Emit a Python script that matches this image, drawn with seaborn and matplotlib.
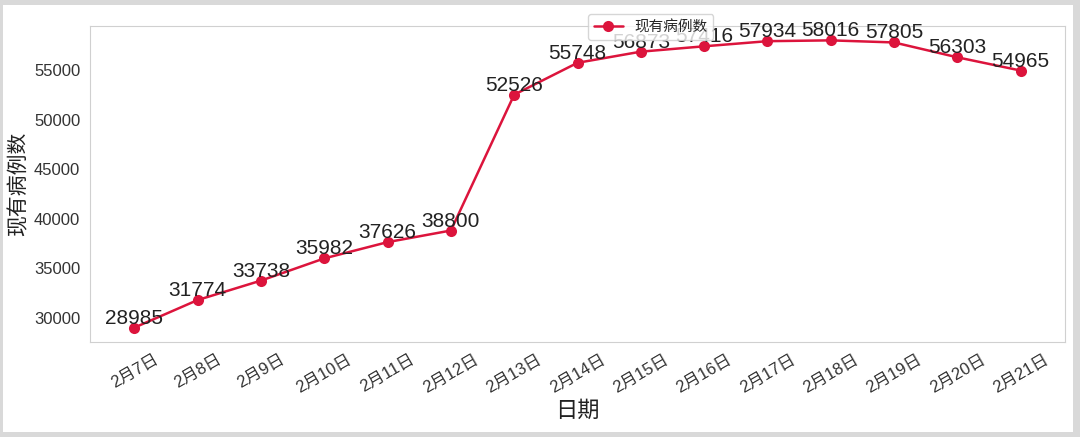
import matplotlib
matplotlib.use("Agg")
import matplotlib.pyplot as plt
import seaborn as sns
import pandas as pd
from matplotlib.patches import Rectangle

dates = ["2月7日", "2月8日", "2月9日", "2月10日", "2月11日", "2月12日", "2月13日",
         "2月14日", "2月15日", "2月16日", "2月17日", "2月18日", "2月19日", "2月20日", "2月21日"]
cases = [28985, 31774, 33738, 35982, 37626, 38800, 52526,
         55748, 56873, 57416, 57934, 58016, 57805, 56303, 54965]

sns.set_style("whitegrid", {"axes.grid": False, "axes.edgecolor": "#d0d0d0"})
plt.rcParams["font.family"] = ["Liberation Sans", "Noto Sans CJK SC", "DejaVu Sans"]
plt.rcParams["axes.unicode_minus"] = False

df = pd.DataFrame({"日期": dates, "现有病例数": cases})

fig = plt.figure(figsize=(10.8, 4.37), dpi=100, facecolor="#d9d9d9")
fig.patches.append(Rectangle((3 / 1080, 5 / 437), 1070 / 1080, 427 / 437,
                             transform=fig.transFigure, facecolor="white",
                             edgecolor="none", zorder=-10))
ax = fig.add_axes([90 / 1080, (437 - 342) / 437, 975 / 1080, 316 / 437])
ax.set_facecolor("white")

sns.lineplot(data=df, x="日期", y="现有病例数", ax=ax, color="#DC143C",
             marker="o", markersize=8, markeredgewidth=0, linewidth=1.8,
             label="现有病例数", sort=False)

for i, (d, v) in enumerate(zip(dates, cases)):
    ax.text(i, v, str(v), ha="center", va="bottom", fontsize=15, color="#222222")

ax.set_xlabel("日期", fontsize=16, color="#222222")
ax.set_ylabel("现有病例数", fontsize=15, color="#222222")
ax.tick_params(axis="x", labelsize=12, rotation=30, colors="#333333")
ax.tick_params(axis="y", labelsize=12, colors="#333333")
for lab in ax.get_xticklabels():
    lab.set_ha("center")
ax.set_yticks([30000, 35000, 40000, 45000, 50000, 55000])

ax.legend(loc="upper center", bbox_to_anchor=(0.575, 1.06), fontsize=10.5,
          frameon=True, framealpha=0.8)

fig.savefig("out.png", dpi=100, facecolor=fig.get_facecolor())
